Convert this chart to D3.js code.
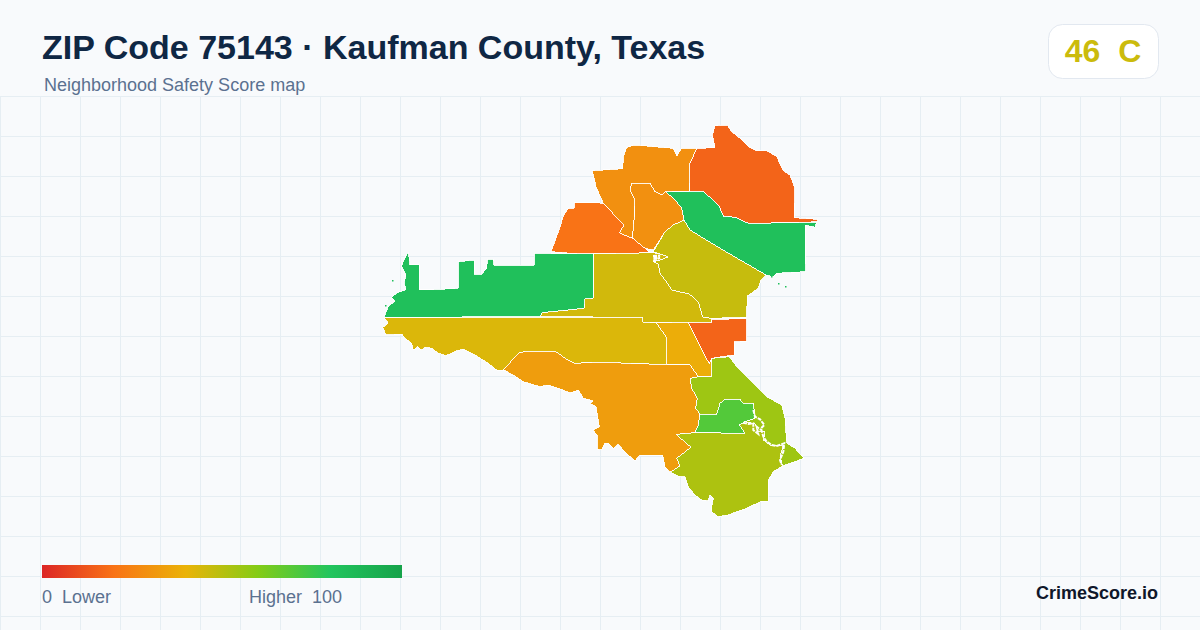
<!DOCTYPE html>
<html>
<head>
<meta charset="utf-8">
<title>ZIP Code 75143</title>
<script src="https://cdn.jsdelivr.net/npm/d3@7"></script>
<style>
  html, body { margin: 0; padding: 0; background: #f8fafc; }
  svg { display: block; }
  text { font-family: "Liberation Sans", Arial, sans-serif; white-space: pre; }
</style>
</head>
<body>
<svg id="chart" width="1200" height="630"></svg>
<script>
// labels
const titleText = "ZIP Code 75143 \u00b7 Kaufman County, Texas";
const subtitleText = "Neighborhood Safety Score map";
const overallScore = 46;
const overallGrade = "C";
const legendLow = "0  Lower";
const legendHigh = "Higher  100";
const brandText = "CrimeScore.io";

// legend colour ramp
const rampStops = [0, 20, 40, 60, 80, 100];
const rampColors = ["#dc2626", "#f97316", "#eab308", "#84cc16", "#22c55e", "#16a34a"];

// safety score of each tract
const tractScores = [16, 83, 29, 29, 20, 47, 45, 16, 38, 43, 33, 83, 55, 70, 52];

// tract outlines, map units
const tractRedNorth = [[715,125.7],[727.3,125],[731.7,131.7],[740,138.3],[748.3,146.7],[756.7,150.7],[766.7,150.7],[776.7,156.7],[783.3,170.7],[790,175],[795,188.3],[794,217.7],[817.7,219.3],[817.7,221.7],[795,222.7],[748.3,223.3],[735,217.3],[723.3,216],[719.3,206.7],[713.3,200],[702.7,191.3],[689.3,191],[690,163.3],[696.7,148.3],[715,147.7],[712.3,135]];
const tractGreenBand = [[665.7,191.7],[702.7,191.3],[713.3,200],[719.3,206.7],[723.3,216],[735,217.3],[748.3,223.3],[795,222.7],[804,222.3],[816.7,222.3],[815,227.3],[805,225],[805,256.7],[806,271.7],[776.7,273.3],[773.3,276.7],[766,275],[720,248.3],[690,230],[684,220],[681.7,208.3],[675,200]];
const tractOrangeNorth = [[635,145],[673.3,148.3],[676.7,156],[681.7,148.3],[696.7,148.3],[690,163.3],[689.3,191],[665.7,191.7],[661.7,195],[655,191.7],[650,183.3],[631.7,183.3],[630,190],[634,198.3],[635,213.3],[633.3,225],[632.7,238.3],[626.7,236],[619.3,232.7],[624,225],[616,216.7],[603.3,203.3],[596,186.7],[594,178.3],[592.3,170.7],[622.7,168.7],[623.3,156.7],[626.7,147.3]];
const tractOrangeInner = [[631.7,183.3],[650,183.3],[655,191.7],[661.7,195],[665.7,191.7],[675,200],[681.7,208.3],[684,220],[673.3,225],[665,231.7],[653.3,250],[645,248.3],[632.7,238.3],[633.3,225],[635,213.3],[634,198.3],[630,190]];
const tractOrangeWest = [[574,202.7],[597.3,202.7],[603.3,203.3],[616,216.7],[624,225],[619.3,232.7],[626.7,236],[632.7,238.3],[645,248.3],[648.3,251.7],[653.3,252.7],[593.3,254],[580,254.3],[564,252.7],[551,251.7],[556,238.3],[560.7,225],[563.3,216],[568.3,208.3],[574,208.3]];
const tractOliveEast = [[684,220],[690,230],[720,248.3],[766,275],[760.7,280.7],[758.3,288.3],[747.3,296],[746.7,317.3],[711.7,318.3],[702.7,317.3],[698.3,301.7],[689.3,294],[671.7,290],[665,280],[660,273.3],[658.3,264],[653.3,261.7],[660,260],[668.3,256.7],[660,254],[653.3,251.7],[665,231.7],[673.3,225]];
const tractOliveMid = [[593.3,254],[653.3,252.7],[660,254],[668.3,256.7],[660,260],[653.3,261.7],[658.3,264],[660,273.3],[665,280],[671.7,290],[689.3,294],[698.3,301.7],[702.7,317.3],[711.7,318.3],[711.7,322.3],[642.7,322.3],[642.7,317.3],[540.7,316.7],[541.7,312.7],[584,308.3],[585,299],[593.3,298.3]];
const tractRedMid = [[688.3,322.3],[711.7,322.3],[711.7,319.5],[746.7,318.5],[746.7,341],[734,342],[734,355],[711.7,358.3],[709.3,364],[697,340]];
const tractAmberSmall = [[656,322.7],[688.3,322.3],[697,340],[709.3,364],[711.7,358.3],[711,376.7],[698.3,376.7],[690,365],[666.7,364.5],[666.5,337.3]];
const tractYellowLong = [[384,317.3],[642.7,317.3],[642.7,322.3],[656,322.7],[666.5,337.3],[666.7,364.5],[623.3,363.3],[616.7,362.3],[596.7,362.3],[575,363.3],[566.7,359.3],[555,351],[526.7,351],[518.3,353.3],[503.3,370],[496.7,370],[488.3,363.3],[475,355],[463.3,349.3],[456.7,350.7],[446,355.7],[438.3,353.3],[431.7,348.3],[425,347.3],[421.7,350],[417.7,346.7],[413.3,350],[411.7,343.3],[405,338.3],[401.7,334],[386,335],[382.7,327.3],[388.3,323.3]];
const tractOrangeSouth = [[503.3,370],[518.3,353.3],[526.7,351],[555,351],[566.7,359.3],[575,363.3],[596.7,362.3],[616.7,362.3],[623.3,363.3],[666.7,364.5],[690,365],[698.3,376.7],[690,378.3],[691.7,388.3],[697.3,398.3],[695.7,408.3],[700,414],[698.3,425],[695,432.7],[676,434.3],[691,447.3],[676.7,458.3],[680,466],[670,472.3],[665,466.7],[662.7,455],[640,455],[635,460.7],[628.3,455],[621.7,448.3],[618.3,444.3],[613.3,448.3],[608.3,443.3],[605,443.3],[601.7,450],[597.3,449],[597.3,435],[592.7,430],[599.3,426.7],[596,406.7],[590,403.3],[593.3,401],[583.3,398.3],[578.3,390],[570,393],[563,390],[548.3,385],[540,386.7],[523.3,381.7],[513.3,375],[505,370.7]];
const tractGreenWest = [[384,317.3],[540.7,316.7],[541.7,312.7],[584,308.3],[585,299],[593.3,298.3],[593.3,254],[534,253.3],[534,265],[494,265],[493.3,259],[487.3,259],[486.7,268.3],[481.7,274],[474,274],[474,260],[458.3,261.7],[458.3,288.3],[440,289.3],[419.3,290],[419.3,264.7],[410,264.7],[408.3,252],[403.3,261.3],[401.7,266.3],[406,274.7],[404,283],[406,289.7],[396.7,293],[391.7,297.3],[395,301.3],[388.3,306.3]];
const tractLimeEast = [[711,376.7],[711.7,358.3],[729.3,356.7],[736.7,366.7],[750,380],[766.7,396.7],[781.7,405],[785,418.3],[786.7,443.3],[795,448.3],[804,458.3],[782.7,466],[780,456.7],[783.3,445],[776,446],[770,445],[763.3,440],[765,431.7],[758,431],[755,424],[745,421.7],[755,418.3],[753.3,403.3],[743.3,403.3],[740,399.3],[725,399.3],[720,403.3],[716.7,414],[700,414],[695.7,408.3],[697.3,398.3],[691.7,388.3],[690,378.3],[698.3,376.7]];
const tractGreenCore = [[720,403.3],[725,399.3],[740,399.3],[743.3,403.3],[753.3,403.3],[755,418.3],[745,421.7],[739.3,425],[745,433.3],[695,432.7],[698.3,425],[700,414],[716.7,414]];
const tractLimeSouth = [[676,434.3],[695,432.7],[745,433.3],[739.3,425],[745,421.7],[755,424],[758,431],[765,431.7],[763.3,440],[770,445],[776,446],[783.3,445],[780,456.7],[782.7,466],[773.3,471.7],[768.3,480],[768.3,501],[761.7,501],[746.7,508.3],[736.7,511.7],[728.3,515],[718.3,516.7],[711.7,511.7],[711.7,506.7],[713.3,498],[710,495],[708.3,500.7],[701.7,500],[695,495],[688.3,486.7],[685,476.7],[680,476.7],[670,472.3],[680,466],[676.7,458.3],[691,447.3]];

const tractOutlines = [tractRedNorth, tractGreenBand, tractOrangeNorth, tractOrangeInner, tractOrangeWest,
  tractOliveEast, tractOliveMid, tractRedMid, tractAmberSmall, tractYellowLong, tractOrangeSouth,
  tractGreenWest, tractLimeEast, tractGreenCore, tractLimeSouth];

// tidal channels and creek branches drawn as thin white lines
const channelMain = [[753.3,410],[755,416.7],[760,419.3],[764.3,425],[761,428.3],[763.3,436.7],[766.7,441.7],[771.7,445],[776.7,446],[784.3,443.3],[783.3,451.7],[780,460],[781.7,465]];
const channelBranch = [[743,422.7],[748.3,424],[753.3,423.3],[753.3,430],[758.3,434],[756.7,426.7],[761,430]];
const creekBranch = [[653,256],[660,255.5],[653,258.5],[660,258],[653,261]];
const channels = [channelMain, channelBranch, creekBranch];

// stray islets off the coast: position and score
const isletX = [778, 785, 771, 385, 392, 390];
const isletY = [283, 286, 276, 305, 280, 311];
const isletScores = [83, 83, 83, 83, 83, 83];

const width = 1200, height = 630;
const svg = d3.select("#chart");

// Colour scale shared by the tracts, the legend and the badge
const color = d3.scaleLinear().domain(rampStops).range(rampColors);

svg.append("rect").attr("width", width).attr("height", height).attr("fill", "#f8fafc");

// Background grid below the header
const grid = svg.append("g").attr("stroke", "#e6eef3").attr("stroke-width", 1);
grid.selectAll("line.v").data(d3.range(0, width, 40)).join("line").attr("class", "v")
  .attr("x1", d => d + 0.5).attr("x2", d => d + 0.5).attr("y1", 96).attr("y2", height);
grid.selectAll("line.h").data(d3.range(96, height, 40)).join("line").attr("class", "h")
  .attr("x1", 0).attr("x2", width).attr("y1", d => d + 0.5).attr("y2", d => d + 0.5);

// Map, one GeoJSON feature for each tract
const features = tractOutlines.map((ring, i) => ({
  type: "Feature",
  properties: { score: tractScores[i] },
  geometry: { type: "Polygon", coordinates: [ring.concat([ring[0]])] }
}));
const path = d3.geoPath(d3.geoIdentity());
const map = svg.append("g");
map.selectAll("path").data(features).join("path")
  .attr("d", path)
  .attr("fill", d => color(d.properties.score))
  .attr("stroke", "#ffffff")
  .attr("stroke-width", 0.9)
  .attr("stroke-linejoin", "miter")
  .attr("shape-rendering", "crispEdges");

map.selectAll("path.channel").data(channels).join("path").attr("class", "channel")
  .attr("d", d3.line())
  .attr("fill", "none")
  .attr("stroke", "#ffffff")
  .attr("stroke-width", 2)
  .attr("stroke-dasharray", "4 1");

map.selectAll("rect.islet").data(isletX).join("rect").attr("class", "islet")
  .attr("x", d => d).attr("y", (d, i) => isletY[i])
  .attr("width", 1.5).attr("height", 1.5)
  .attr("fill", (d, i) => color(isletScores[i]));

// Header
svg.append("text").attr("x", 42).attr("y", 59).attr("font-size", 34).attr("font-weight", 700)
  .attr("fill", "#0f2744").text(titleText);
svg.append("text").attr("x", 44).attr("y", 91).attr("font-size", 18)
  .attr("fill", "#5b7190").text(subtitleText);

// Score badge
svg.append("rect").attr("x", 1048.5).attr("y", 24.5).attr("width", 110).attr("height", 54).attr("rx", 14)
  .attr("fill", "#ffffff").attr("stroke", "#e2e8f0");
svg.append("text").attr("x", 1103).attr("y", 62).attr("text-anchor", "middle")
  .attr("font-size", 32).attr("font-weight", 700).attr("fill", color(overallScore))
  .text(overallScore + "  " + overallGrade);

// Legend
const legendX = d3.scaleLinear().domain([0, 100]).range([42, 402]);
const gradient = svg.append("defs").append("linearGradient").attr("id", "ramp");
gradient.selectAll("stop").data(rampStops).join("stop")
  .attr("offset", d => d + "%").attr("stop-color", d => color(d));
svg.append("rect").attr("x", legendX(0)).attr("y", 565).attr("width", legendX(100) - legendX(0)).attr("height", 13)
  .attr("fill", "url(#ramp)");
svg.append("text").attr("x", 42).attr("y", 603).attr("font-size", 18).attr("fill", "#5b7190").text(legendLow);
svg.append("text").attr("x", 249).attr("y", 603).attr("font-size", 18).attr("fill", "#5b7190").text(legendHigh);

svg.append("text").attr("x", 1158).attr("y", 599).attr("text-anchor", "end")
  .attr("font-size", 18).attr("font-weight", 700).attr("fill", "#0f172a").text(brandText);
</script>
</body>
</html>
